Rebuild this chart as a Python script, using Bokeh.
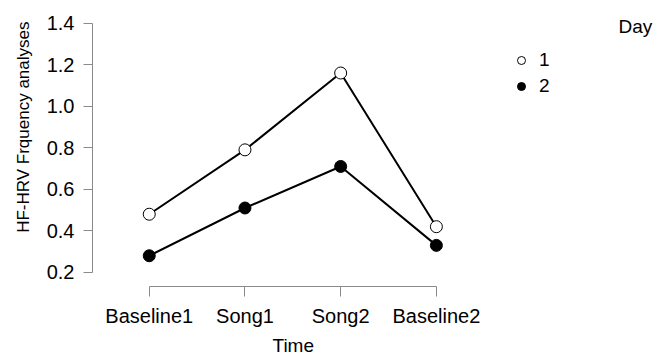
from bokeh.plotting import figure
from bokeh.models import (Range1d, FixedTicker, Legend, LegendItem, Label, Title, ColumnDataSource)
from bokeh.embed import file_html
from bokeh.resources import INLINE

categories = ["Baseline1", "Song1", "Song2", "Baseline2"]
day_labels = ["1", "2"]
day1 = [0.48, 0.79, 1.16, 0.42]
day2 = [0.28, 0.51, 0.71, 0.33]
y_ticks = [0.2, 0.4, 0.6, 0.8, 1.0, 1.2, 1.4]

xs = list(range(1, len(categories) + 1))
FONT = "Liberation Sans"
AXIS_COLOR = "#8a8a8a"

p = figure(width=654, height=358, output_backend="svg", toolbar_location=None,
           x_range=Range1d(0.407, 6.279), y_range=Range1d(0.132, 1.461),
           min_border_left=91, min_border_right=0, min_border_top=10, min_border_bottom=71)
p.outline_line_color = None
p.grid.visible = False
p.background_fill_color = "white"
p.border_fill_color = "white"

for ax in (p.xaxis[0], p.yaxis[0]):
    ax.axis_line_color = AXIS_COLOR
    ax.major_tick_line_color = AXIS_COLOR
    ax.minor_tick_line_color = None
    ax.major_tick_in = 0
    ax.major_label_text_font = FONT
    ax.major_label_text_font_size = "20px"
    ax.major_label_text_color = "black"

p.xaxis.ticker = FixedTicker(ticks=xs)
p.xaxis.major_label_overrides = {x: c for x, c in zip(xs, categories)}
p.xaxis.bounds = (xs[0], xs[-1])
p.xaxis.major_tick_out = 10
p.xaxis.major_label_standoff = 8

p.yaxis.ticker = FixedTicker(ticks=y_ticks)
p.yaxis.major_label_overrides = {t: f"{t:.1f}" for t in y_ticks}
p.yaxis.bounds = (y_ticks[0], y_ticks[-1])
p.yaxis.major_tick_out = 9
p.yaxis.major_label_standoff = 9

src1 = ColumnDataSource(dict(x=xs, y=day1))
src2 = ColumnDataSource(dict(x=xs, y=day2))

p.line("x", "y", source=src1, line_color="black", line_width=2)
p.line("x", "y", source=src2, line_color="black", line_width=2)
r1 = p.scatter("x", "y", source=src1, size=12, fill_color="white", line_color="black", line_width=1)
r2 = p.scatter("x", "y", source=src2, size=12, fill_color="black", line_color="black", line_width=1)

legend = Legend(items=[LegendItem(label=day_labels[0], renderers=[r1]),
                       LegendItem(label=day_labels[1], renderers=[r2])],
                location=(419, 187), orientation="vertical",
                glyph_width=20, glyph_height=26, label_height=26, spacing=0,
                padding=0, margin=0, label_standoff=8,
                label_text_font=FONT, label_text_font_size="19px", label_text_color="black",
                border_line_color=None, background_fill_alpha=0)
p.add_layout(legend)

p.add_layout(Label(x=526, y=260, x_units="screen", y_units="screen", text="Day",
                   text_font=FONT, text_font_size="19px", text_baseline="middle",
                   text_align="left", text_color="black"))

p.add_layout(Title(text="HF-HRV Frquency analyses", align="right", offset=11,
                   text_font=FONT, text_font_size="17px", text_font_style="normal",
                   text_color="black", standoff=22), "left")
p.add_layout(Title(text="Time", align="left", offset=180,
                   text_font=FONT, text_font_size="19px", text_font_style="normal",
                   text_color="black", standoff=6), "below")

open("out.html", "w").write(file_html(p, INLINE))
